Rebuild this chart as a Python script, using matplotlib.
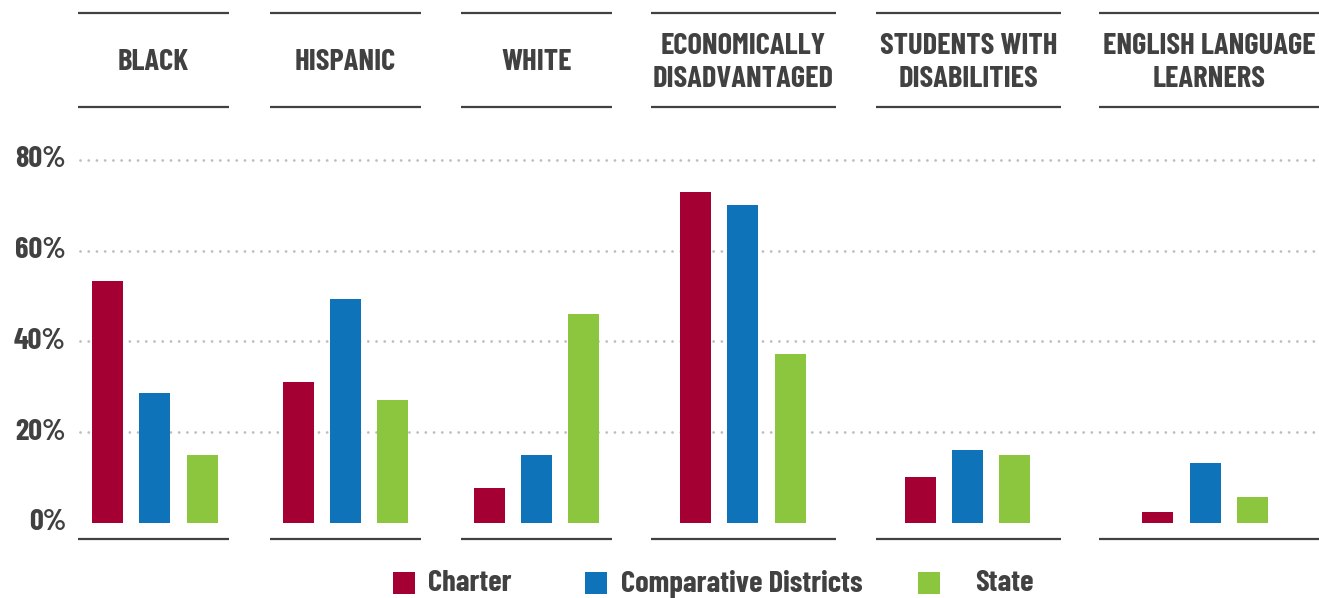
import matplotlib
matplotlib.use("Agg")
import matplotlib.pyplot as plt
from matplotlib.patches import Rectangle
from matplotlib import font_manager

# ---------------- data ----------------
categories = ["BLACK", "HISPANIC", "WHITE", "ECONOMICALLY\nDISADVANTAGED",
              "STUDENTS WITH\nDISABILITIES", "ENGLISH LANGUAGE\nLEARNERS"]
series_names = ["Charter", "Comparative Districts", "State"]
charter = [53.2, 31.0, 7.6, 72.9, 10.1, 2.4]
comparative = [28.5, 49.3, 14.9, 70.0, 16.0, 13.2]
state = [15.0, 27.1, 46.0, 37.1, 15.0, 5.7]
y_ticks = [0, 20, 40, 60, 80]
y_tick_labels = ["0%", "20%", "40%", "60%", "80%"]

# ---------------- style ----------------
colors = ["#A50034", "#0F73BA", "#8CC63F"]
text_color = "#414141"
line_color = "#414141"
grid_color = "#bdbdbd"

avail = {f.name for f in font_manager.fontManager.ttflist}
fam = [f for f in ["Barlow Condensed", "DejaVu Sans"] if f in avail] or ["DejaVu Sans"]
plt.rcParams["font.family"] = fam
plt.rcParams["font.stretch"] = "condensed"

W, H, DPI = 1319, 598, 100
fig = plt.figure(figsize=(W / DPI, H / DPI), dpi=DPI)
ax = fig.add_axes([0, 0, 1, 1])
ax.set_axis_off()

step_px = 47.3          # distance between bar centres in pixels
px_per_pct = 4.534      # vertical pixels per percentage point
base_py = 522.7         # pixel row of 0%

ax.set_xlim(0, W / step_px)
ax.set_ylim((base_py - H) / px_per_pct, base_py / px_per_pct)

def X(px):
    return px / step_px

def Y(py):
    return (base_py - py) / px_per_pct

FS = 22

# layout (pixels)
group_centers_px = [154.8, 345.5, 536.5, 742.8, 967.5, 1205.2]
group_lines_px = [(78, 229), (270, 421), (461, 612), (651, 836), (876, 1061), (1099, 1319)]
bar_w = 31 / step_px

# grid (dotted)
for t in y_ticks[1:]:
    ax.plot([X(80), X(W)], [t, t], color=grid_color, lw=2.0,
            linestyle=(0, (0.01, 2.95)), dash_capstyle="round", zorder=1)

# bars
for s, (vals, c) in enumerate(zip([charter, comparative, state], colors)):
    xs = [X(gc) + (s - 1) for gc in group_centers_px]
    ax.bar(xs, vals, width=bar_w, color=c, zorder=2, linewidth=0)

# group lines and headers
for (l, r), cat in zip(group_lines_px, categories):
    for py in (13, 107, 539):
        ax.plot([X(l), X(r)], [Y(py), Y(py)], color=line_color, lw=1.6,
                solid_capstyle="butt", zorder=3, clip_on=False)
    ax.text(X((l + r) / 2), Y(63), cat, ha="center", va="center",
            fontsize=FS, fontweight="bold", color=text_color,
            linespacing=1.3)

# y tick labels
for t, lab in zip(y_ticks, y_tick_labels):
    ax.text(X(66), t, lab, ha="right", va="center", fontsize=FS,
            fontweight="bold", color=text_color)

# legend
legend_sq_px = [393, 585, 918]
legend_txt_px = [428, 621, 975]
for name, c, sq, tx in zip(series_names, colors, legend_sq_px, legend_txt_px):
    ax.add_patch(Rectangle((X(sq), Y(594)), X(22), 22 / px_per_pct,
                           color=c, lw=0, clip_on=False))
    ax.text(X(tx), Y(583.5), name, ha="left", va="center", fontsize=FS,
            fontweight="bold", color=text_color)

fig.savefig("out.png", dpi=DPI)
